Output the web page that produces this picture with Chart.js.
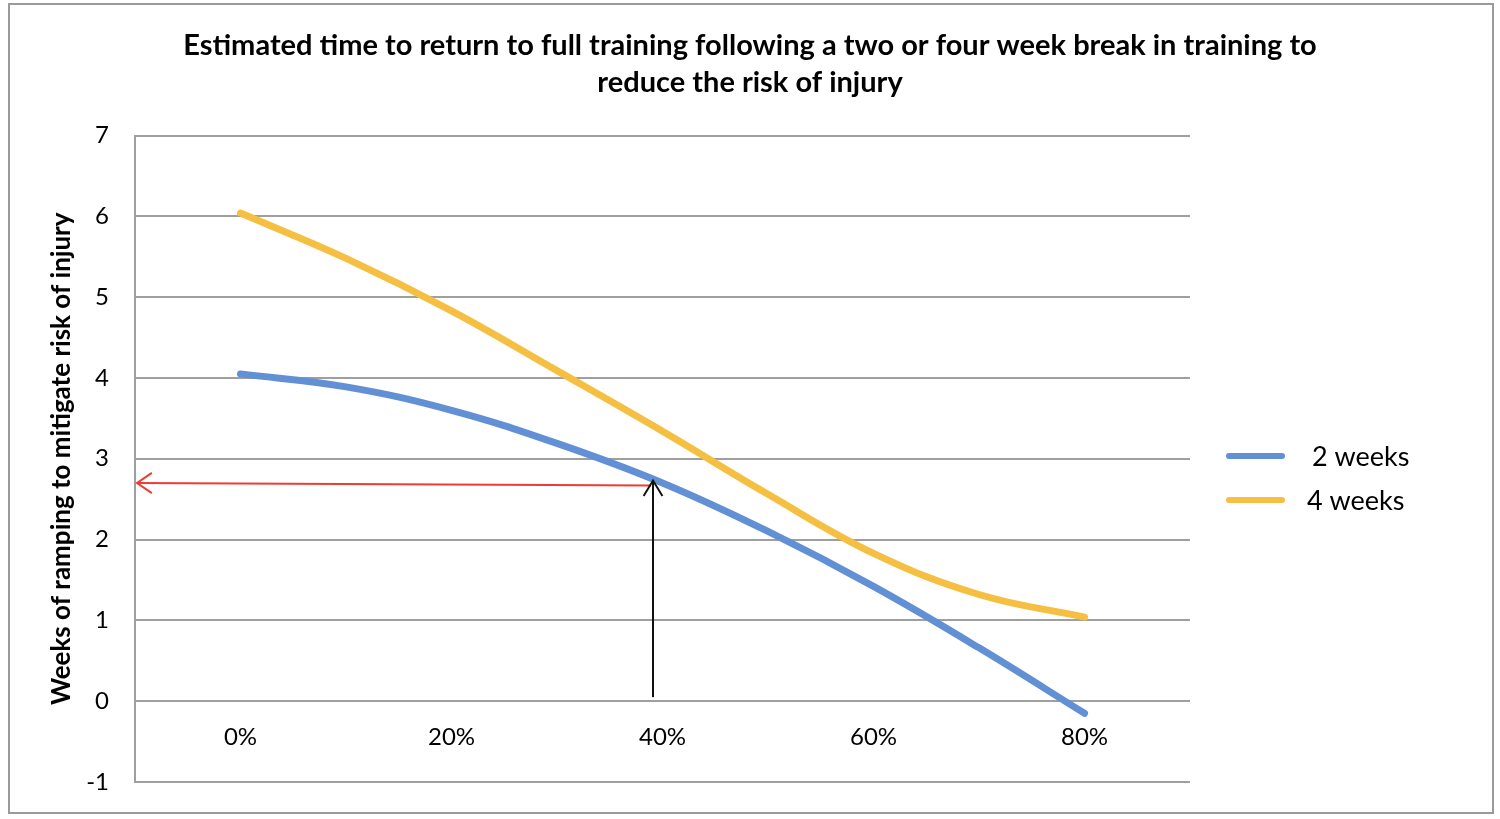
<!DOCTYPE html>
<html>
<head>
<meta charset="utf-8">
<script src="https://cdn.jsdelivr.net/npm/chart.js@4.4.1/dist/chart.umd.min.js"></script>
<style>
    body { margin: 0; background: #fff; }
    #wrap { position: relative; width: 1500px; height: 819px; }
</style>
</head>
<body>
<div id="wrap"><canvas id="rampChart"></canvas></div>
<script>
const pctBreak = [0, 10, 20, 30, 40, 50, 60, 70, 80];
const twoWeeks = [4.05, 3.89, 3.60, 3.19, 2.70, 2.10, 1.42, 0.66, -0.15];
const fourWeeks = [6.04, 5.48, 4.83, 4.09, 3.34, 2.56, 1.83, 1.32, 1.04];
const xTicks = [0, 20, 40, 60, 80];
const seriesNames = ['2 weeks', '4 weeks'];
const seriesColors = ['#6290d5', '#f5bf42'];
// reading guide: 2 weeks at ~39% -> ~2.7 weeks
const guideX = [39.1, -10];
const guideY = [0.05, 2.7];

const fontFam = 'Lato, "Open Sans", sans-serif';

function arrowHead(ctx, x, y, angle, len, spread) {
    ctx.beginPath();
    ctx.moveTo(x + len * Math.cos(angle - spread), y + len * Math.sin(angle - spread));
    ctx.lineTo(x, y);
    ctx.lineTo(x + len * Math.cos(angle + spread), y + len * Math.sin(angle + spread));
    ctx.stroke();
}

const extras = {
    id: 'extras',
    beforeDraw(chart) {
        const ctx = chart.ctx;
        ctx.save();
        ctx.strokeStyle = '#9a9a9a';
        ctx.lineWidth = 2;
        ctx.strokeRect(9, 4, 1484, 809);
        ctx.restore();
    },
    afterDraw(chart) {
        const ctx = chart.ctx;
        const xs = chart.scales.x, ys = chart.scales.y;
        ctx.save();
        // red horizontal arrow
        const rx0 = xs.getPixelForValue(guideX[0]) - 2, rx1 = xs.getPixelForValue(guideX[1]) + 2;
        const ry0 = ys.getPixelForValue(guideY[1] - 0.03), ry1 = ys.getPixelForValue(guideY[1]);
        ctx.strokeStyle = '#ee3b34';
        ctx.lineWidth = 2;
        ctx.beginPath();
        ctx.moveTo(rx0, ry0);
        ctx.lineTo(rx1, ry1);
        ctx.stroke();
        arrowHead(ctx, rx1, ry1, 0, 18, 0.6);
        // black vertical arrow
        const bx = xs.getPixelForValue(guideX[0]);
        const by0 = ys.getPixelForValue(guideY[0]), by1 = ys.getPixelForValue(guideY[1] + 0.03);
        ctx.strokeStyle = '#111';
        ctx.beginPath();
        ctx.moveTo(bx, by0);
        ctx.lineTo(bx, by1);
        ctx.stroke();
        arrowHead(ctx, bx, by1, Math.PI / 2, 18, 0.55);
        // legend
        const legY = [456, 500];
        const legTx = [1312, 1307];
        ctx.lineCap = 'round';
        ctx.lineWidth = 6;
        ctx.font = '27px ' + fontFam;
        ctx.fillStyle = '#000';
        ctx.textBaseline = 'middle';
        seriesNames.forEach(function (name, i) {
            ctx.strokeStyle = seriesColors[i];
            ctx.beginPath();
            ctx.moveTo(1229, legY[i]);
            ctx.lineTo(1282, legY[i]);
            ctx.stroke();
            ctx.fillText(name, legTx[i], legY[i] + 1);
        });
        ctx.restore();
    }
};

new Chart(document.getElementById('rampChart'), {
    type: 'line',
    data: {
        datasets: [
            {
                label: seriesNames[0],
                data: pctBreak.map((p, i) => ({ x: p, y: twoWeeks[i] })),
                borderColor: seriesColors[0],
                borderWidth: 7,
                borderCapStyle: 'round',
                pointRadius: 0,
                tension: 0.4
            },
            {
                label: seriesNames[1],
                data: pctBreak.map((p, i) => ({ x: p, y: fourWeeks[i] })),
                borderColor: seriesColors[1],
                borderWidth: 7,
                borderCapStyle: 'round',
                pointRadius: 0,
                tension: 0.4
            }
        ]
    },
    options: {
        responsive: true,
        maintainAspectRatio: false,
        animation: false,
        layout: {
            padding: { top: 10, left: 20, right: 20, bottom: 37 }
        },
        plugins: {
            legend: { display: false },
            tooltip: { enabled: false },
            title: {
                display: true,
                text: ['Estimated time to return to full training following a two or four week break in training to',
                       'reduce the risk of injury'],
                color: '#000',
                font: { family: fontFam, size: 29, weight: 'bold', lineHeight: 1.25 },
                padding: { top: 18, bottom: 35 }
            }
        },
        scales: {
            x: {
                type: 'linear',
                min: -10,
                max: 90,
                position: { y: 0 },
                afterBuildTicks: function (scale) {
                    scale.ticks = xTicks.map(v => ({ value: v }));
                },
                afterFit: function (scale) { scale.paddingLeft = 0; scale.paddingRight = 0; },
                ticks: {
                    padding: 22,
                    color: '#000',
                    font: { family: fontFam, size: 24 },
                    callback: v => v + '%'
                },
                grid: { display: false, drawTicks: false },
                border: { display: false }
            },
            y: {
                min: -1,
                max: 7,
                afterFit: function (scale) {
                    scale.width = 115;
                    scale.paddingTop = 0;
                    scale.paddingBottom = 0;
                },
                ticks: {
                    stepSize: 1,
                    padding: 26,
                    color: '#000',
                    font: { family: fontFam, size: 24 }
                },
                grid: { color: '#9f9f9f', lineWidth: 2, drawTicks: false },
                border: { color: '#9f9f9f', width: 2 },
                title: {
                    display: true,
                    text: 'Weeks of ramping to mitigate risk of injury',
                    color: '#000',
                    font: { family: fontFam, size: 26, weight: 'bold' },
                    padding: { top: 26, bottom: 0 }
                }
            },
            // empty right-hand strip that keeps room for the legend
            side: {
                type: 'linear',
                position: 'right',
                afterFit: function (scale) {
                    scale.width = 290;
                    scale.paddingTop = 0;
                    scale.paddingBottom = 0;
                },
                ticks: { display: false },
                grid: { display: false, drawTicks: false },
                border: { display: false }
            }
        }
    },
    plugins: [extras]
});
</script>
</body>
</html>
